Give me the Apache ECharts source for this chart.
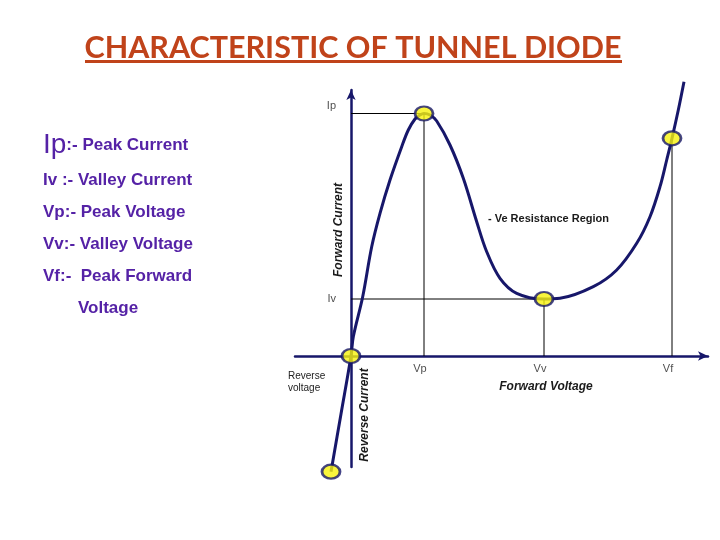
<!DOCTYPE html>
<html>
<head>
<meta charset="utf-8">
<title>Characteristic of Tunnel Diode</title>
<script src="https://cdn.jsdelivr.net/npm/echarts@6.0.0/dist/echarts.min.js"></script>
<style>
  html, body { margin: 0; padding: 0; background: #ffffff; }
  #chart { width: 720px; height: 540px; }
</style>
</head>
<body>
<div id="chart"></div>
<script>
// V-I curve of the tunnel diode (arbitrary units)
const voltage = [-0.20, -0.10, 0, 0.023, 0.117, 0.207, 0.29, 0.39, 0.507, 0.573, 0.64, 0.69, 0.73,
  0.79, 0.857, 0.99, 1.123, 1.257, 1.357, 1.49, 1.657, 1.93,
  2.09, 2.423, 2.657, 2.857, 2.99, 3.09, 3.157, 3.21, 3.273, 3.33];
const current = [-1.157, -0.58, 0, 0.193, 0.593, 1.093, 1.427, 1.76, 2.093, 2.26, 2.37, 2.41, 2.425,
  2.41, 2.35, 2.11, 1.777, 1.343, 1.043, 0.777, 0.627, 0.57,
  0.577, 0.693, 0.86, 1.127, 1.393, 1.693, 1.96, 2.177, 2.46, 2.743];

// marked points: reverse end, origin, peak, valley, forward
const keyVoltage = [-0.20, 0, 0.73, 1.93, 3.21];
const keyCurrent = [-1.157, 0, 2.425, 0.57, 2.177];

// axis labels
const xTickValues = [0.73, 1.93, 3.21];
const xTickLabels = ['Vp', 'Vv', 'Vf'];
const yTickValues = [2.425, 0.57];
const yTickLabels = ['Ip', 'Iv'];

// left hand legend text
const legendLines = [
  'Iv :- Valley Current',
  'Vp:- Peak Voltage',
  'Vv:- Valley Voltage',
  'Vf:-  Peak Forward',
  'Voltage'
];

const navy = '#17176a';
const purple = '#5522a6';

function pairs(xs, ys) {
  return xs.map((x, i) => [x, ys[i]]);
}

// guide lines dropped from the marked points onto the axes
const peakGuide = [[0, keyCurrent[2]], [keyVoltage[2], keyCurrent[2]], [keyVoltage[2], 0]];
const valleyGuide = [[0, keyCurrent[3]], [keyVoltage[3], keyCurrent[3]], [keyVoltage[3], 0]];
const forwardGuide = [[keyVoltage[4], keyCurrent[4]], [keyVoltage[4], 0]];

function guideSeries(data) {
  return {
    type: 'line',
    data: data,
    symbol: 'none',
    silent: true,
    z: 1,
    lineStyle: { color: '#000000', width: 1 }
  };
}

// labels that sit on the axes where they cross at zero
const tickLabelStyle = { fontFamily: 'Liberation Sans', fontSize: 11, color: '#222222' };
const xTickData = xTickValues.map((v, i) => ({
  value: [v, 0],
  label: { show: true, formatter: xTickLabels[i], position: 'bottom', distance: 7, offset: [-4, 0], ...tickLabelStyle }
}));
const yTickData = yTickValues.map((v, i) => ({
  value: [0, v],
  label: { show: true, formatter: yTickLabels[i], position: 'left', distance: 15, offset: [0, i === 0 ? -8 : 0], ...tickLabelStyle }
}));

const chart = echarts.init(document.getElementById('chart'), null, { renderer: 'canvas' });

const legendGraphics = [{
  type: 'text',
  x: 43, y: 145,
  style: {
    text: '{big|Ip}{b|:- Peak Current}',
    verticalAlign: 'middle',
    rich: {
      big: { font: '28px "Liberation Sans"', fill: purple, verticalAlign: 'middle' },
      b: { font: 'bold 17px "Liberation Sans"', fill: purple, verticalAlign: 'middle' }
    }
  }
}];
const legendY = [180, 212, 244, 276, 308];
legendLines.forEach((line, i) => {
  legendGraphics.push({
    type: 'text',
    x: i === 4 ? 78 : 43,
    y: legendY[i],
    style: {
      text: line,
      font: 'bold 17px "Liberation Sans"',
      fill: purple,
      verticalAlign: 'middle'
    }
  });
});

chart.setOption({
  animation: false,
  backgroundColor: '#ffffff',
  grid: { left: 295, right: 12, top: 90, bottom: 73 },
  xAxis: {
    type: 'value',
    min: -0.56,
    max: 3.57,
    splitLine: { show: false },
    axisTick: { show: false },
    axisLabel: { show: false },
    axisLine: {
      onZero: true,
      symbol: ['none', 'arrow'],
      symbolSize: [7, 10],
      lineStyle: { color: navy, width: 2.5 }
    }
  },
  yAxis: {
    type: 'value',
    min: -1.11,
    max: 2.66,
    splitLine: { show: false },
    axisTick: { show: false },
    axisLabel: { show: false },
    axisLine: {
      onZero: true,
      symbol: ['none', 'arrow'],
      symbolSize: [7, 10],
      lineStyle: { color: navy, width: 2.5 }
    }
  },
  series: [
    guideSeries(peakGuide),
    guideSeries(valleyGuide),
    guideSeries(forwardGuide),
    {
      type: 'line',
      data: pairs(voltage, current),
      symbol: 'none',
      smooth: 0.35,
      clip: false,
      z: 3,
      lineStyle: { color: navy, width: 3 }
    },
    {
      type: 'scatter',
      data: pairs(keyVoltage, keyCurrent),
      symbol: 'circle',
      symbolSize: [18, 14],
      clip: false,
      z: 4,
      itemStyle: { color: '#f7f30c', borderColor: navy, borderWidth: 2.5 }
    },
    {
      type: 'scatter',
      data: xTickData.concat(yTickData),
      symbolSize: 0,
      silent: true,
      z: 2
    }
  ],
  graphic: [
    {
      type: 'text',
      x: 353, y: 48,
      style: {
        text: 'CHARACTERISTIC OF TUNNEL DIODE',
        font: 'bold 30.5px Lato',
        fill: '#c0431a',
        align: 'center',
        verticalAlign: 'middle'
      }
    },
    {
      type: 'rect',
      shape: { x: 85, y: 60, width: 537, height: 3 },
      style: { fill: '#c0431a' }
    },
    ...legendGraphics,
    {
      type: 'text',
      x: 339, y: 230, rotation: Math.PI / 2,
      style: {
        text: 'Forward Current',
        font: 'italic bold 12px "Liberation Sans"',
        fill: '#1a1a1a', align: 'center', verticalAlign: 'middle'
      }
    },
    {
      type: 'text',
      x: 365, y: 415, rotation: Math.PI / 2,
      style: {
        text: 'Reverse Current',
        font: 'italic bold 12px "Liberation Sans"',
        fill: '#1a1a1a', align: 'center', verticalAlign: 'middle'
      }
    },
    {
      type: 'text',
      x: 546, y: 387,
      style: {
        text: 'Forward Voltage',
        font: 'italic bold 12px "Liberation Sans"',
        fill: '#1a1a1a', align: 'center', verticalAlign: 'middle'
      }
    },
    {
      type: 'text',
      x: 288, y: 382,
      style: {
        text: 'Reverse\nvoltage',
        font: '10px "Liberation Sans"',
        lineHeight: 12,
        fill: '#222222', verticalAlign: 'middle'
      }
    },
    {
      type: 'text',
      x: 488, y: 219,
      style: {
        text: '- Ve Resistance Region',
        font: 'bold 11px "Liberation Sans"',
        fill: '#1a1a1a', verticalAlign: 'middle'
      }
    }
  ]
});
</script>
</body>
</html>
